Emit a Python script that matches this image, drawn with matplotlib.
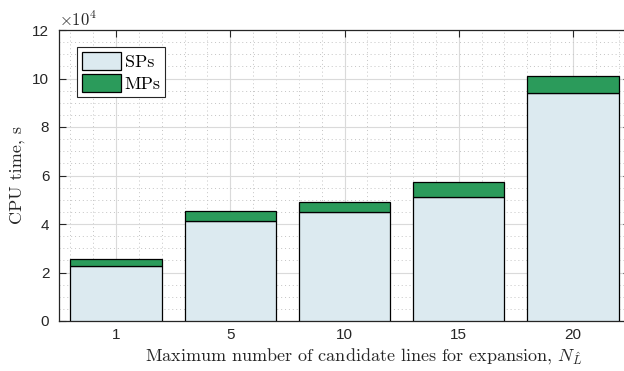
import numpy as np
import matplotlib
matplotlib.use('Agg')
import matplotlib.pyplot as plt
from matplotlib.ticker import MultipleLocator, FuncFormatter

plt.rcParams['mathtext.fontset'] = 'cm'
plt.rcParams['axes.unicode_minus'] = False

## data
categories = ['1', '5', '10', '15', '20']
sp_time = [22500, 41300, 44900, 51000, 94000]
mp_time = [3100, 4200, 4000, 6200, 7100]

sp_color = '#dceaf0'
mp_color = '#2b9b5b'

fig = plt.figure(figsize=(6.24, 3.71), dpi=100)
# right edge of the axes sits just past the picture border (cropped like the original)
ax = fig.add_axes([59 / 624, 1 - 321 / 371, (630 - 59) / 624, 291 / 371])

x = np.arange(1, len(categories) + 1)
ax.bar(x, sp_time, width=0.8, color=sp_color, edgecolor='black', linewidth=0.9,
       label=r'SPs', zorder=3)
ax.bar(x, mp_time, width=0.8, bottom=sp_time, color=mp_color, edgecolor='black',
       linewidth=0.9, label=r'MPs', zorder=3)

ax.set_xlim(0.5, 5.5)
ax.set_ylim(0, 120000)
ax.set_xticks(x)
ax.set_xticklabels(categories)
ax.xaxis.set_minor_locator(MultipleLocator(0.2))
ax.yaxis.set_major_locator(MultipleLocator(20000))
ax.yaxis.set_minor_locator(MultipleLocator(5000))
ax.yaxis.set_major_formatter(FuncFormatter(lambda v, p: '%d' % round(v / 1e4)))

# matlab-ish grid
ax.set_axisbelow(True)
ax.grid(which='major', color='#dadada', linestyle='-', linewidth=0.8)
ax.grid(which='minor', color='#c4c4c4', linestyle=(0, (1, 3)), linewidth=0.7)

for s in ax.spines.values():
    s.set_color('#262626')
    s.set_linewidth(0.9)

ax.tick_params(which='major', direction='in', length=5, width=0.8, color='#262626',
               top=True, right=True, labelsize=11, labelcolor='#262626')
ax.tick_params(axis='x', which='major', pad=5)
ax.tick_params(axis='y', which='major', pad=7)
ax.tick_params(which='minor', length=0, top=True, right=True)
for lab in ax.get_xticklabels() + ax.get_yticklabels():
    lab.set_fontfamily('Liberation Sans')

ax.text(0.0, 1.0, r'$\mathsf{\times 10^{4}}$', transform=ax.transAxes, fontsize=12,
        color='#262626', ha='left', va='bottom')

ax.set_xlabel(r'Maximum number of candidate lines for expansion, $N_{\hat{L}}$',
              fontfamily='cmr10', fontsize=13, color='#262626')
ax.xaxis.set_label_coords(0.534, -0.085)
ax.set_ylabel('CPU time, s', fontfamily='cmr10', fontsize=13, color='#262626', labelpad=5)

leg = ax.legend(loc='upper left', bbox_to_anchor=(0.0315, 0.9416), borderaxespad=0,
                prop={'family': 'cmr10', 'size': 13}, fancybox=False, framealpha=1,
                edgecolor='#262626', handlelength=2.2, handleheight=1.2,
                handletextpad=0.2, borderpad=0.25, labelspacing=0.2)
leg.get_frame().set_linewidth(0.8)

fig.savefig('out.png', dpi=100)
